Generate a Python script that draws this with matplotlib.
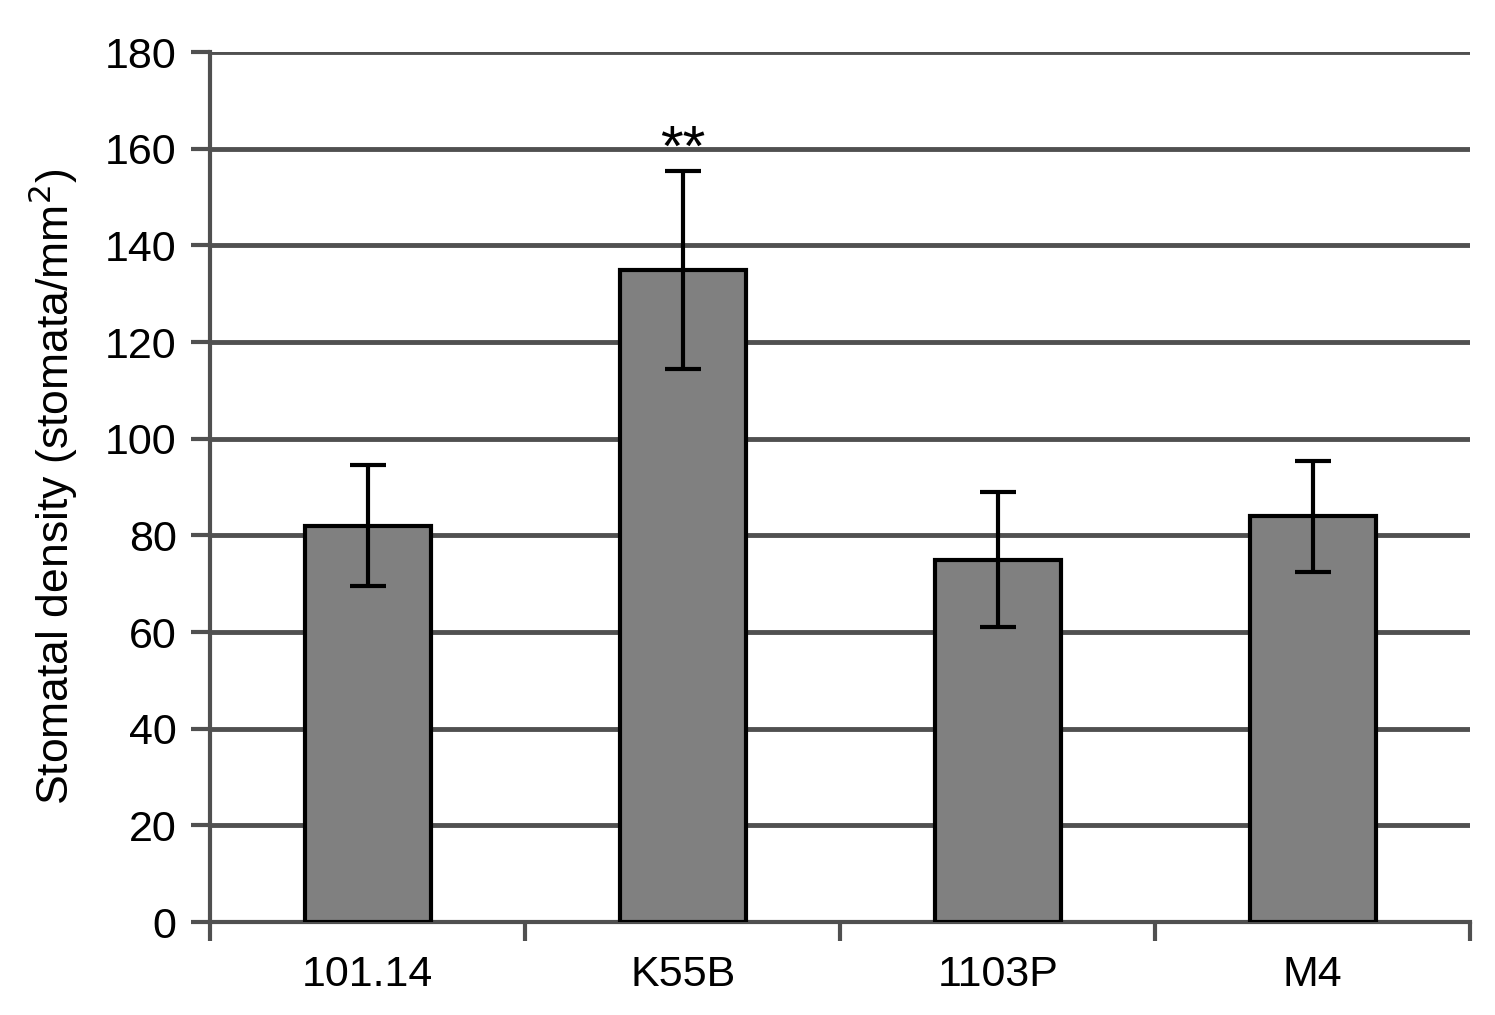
import numpy as np
import matplotlib
matplotlib.use("Agg")
import matplotlib.pyplot as plt

plt.rcParams['font.family'] = ['Liberation Sans', 'DejaVu Sans']

# Stomatal density per rootstock
genotypes = ['101.14', 'K55B', '1103P', 'M4']
density = [82, 135, 75, 84]
sd = [12.5, 20.5, 14, 11.5]
marks = ['', '**', '', '']

fig = plt.figure(figsize=(14.95, 10.15), dpi=100)
ax = fig.add_axes([0.1405, 0.0916, 0.843, 0.857])

x = np.arange(len(genotypes))
ax.bar(x, density, width=0.4, color='#808080', edgecolor='black', linewidth=3, zorder=3)
ax.errorbar(x, density, yerr=sd, fmt='none', ecolor='black', elinewidth=3,
            capsize=13, capthick=3, zorder=4)
for xi, yi, s, m in zip(x, density, sd, marks):
    if m:
        ax.text(xi, yi + s - 1.5, m, ha='center', va='bottom', fontsize=42)

ax.set_xlim(-0.5, len(genotypes) - 0.5)
ax.set_ylim(0, 180)
ax.set_yticks(np.arange(0, 181, 20))
ax.yaxis.grid(True, color='#505050', linewidth=3.5, zorder=0)
ax.set_axisbelow(True)

ax.set_xticks(x)
ax.set_xticklabels(genotypes)
ax.set_xticks(np.arange(-0.5, len(genotypes)), minor=True)
ax.tick_params(axis='x', which='major', length=0, pad=24, labelsize=31)
ax.tick_params(axis='x', which='minor', length=14, width=3, color='#505050')
ax.tick_params(axis='y', length=14, width=3, color='#505050', labelsize=31, pad=10)

for side in ['top', 'right']:
    ax.spines[side].set_visible(False)
for side in ['left', 'bottom']:
    ax.spines[side].set_color('#505050')
    ax.spines[side].set_linewidth(3)

ax.set_ylabel('Stomatal density (stomata/mm$^2$)', fontsize=32, labelpad=18)

fig.savefig('out.png', dpi=100)
